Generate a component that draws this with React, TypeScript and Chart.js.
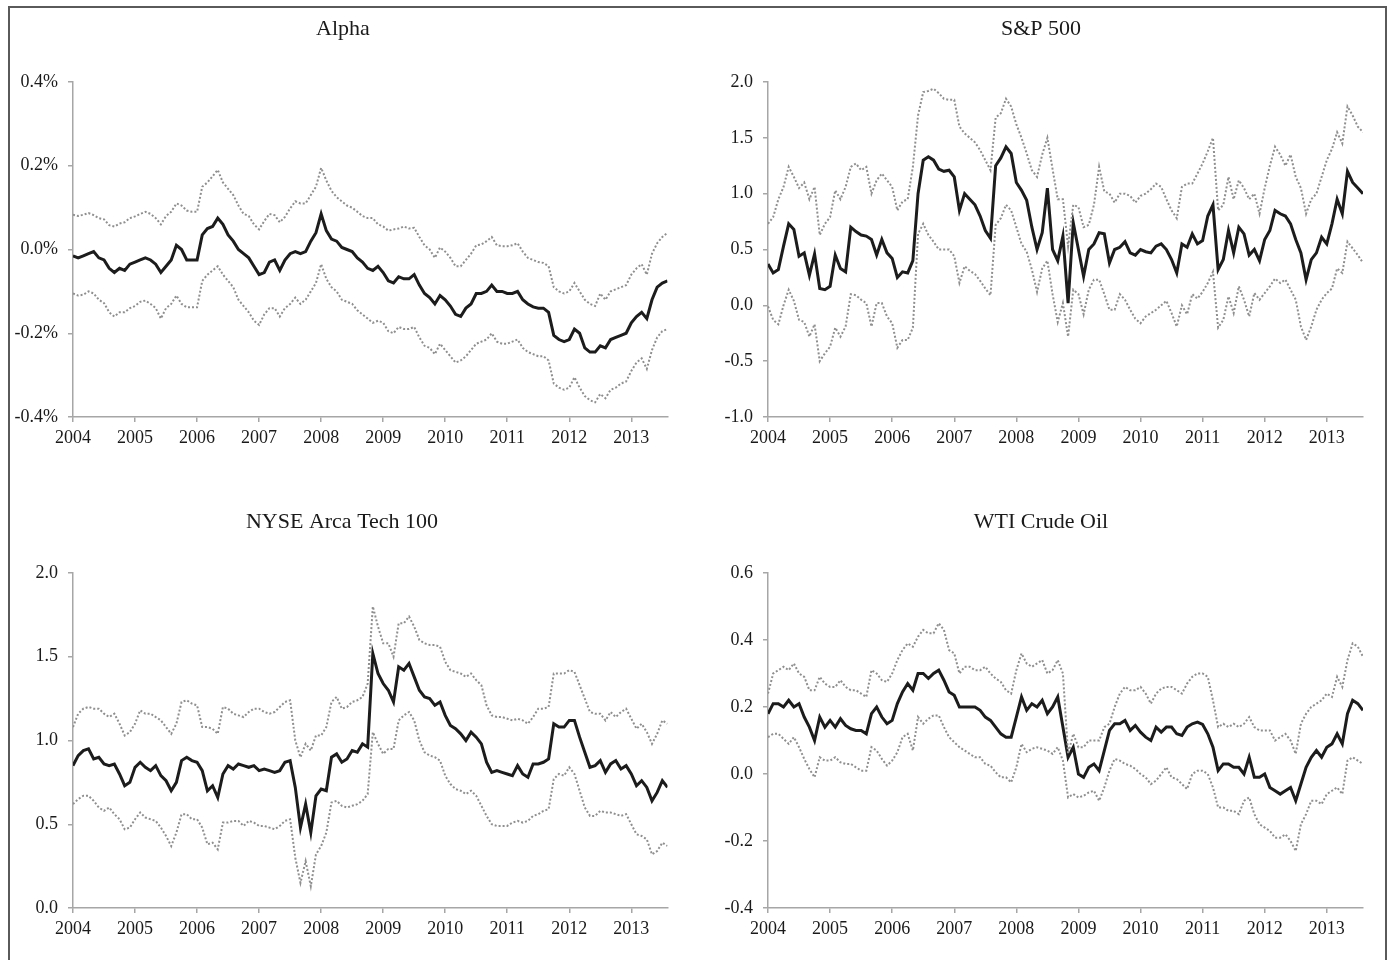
import React, { useEffect, useRef } from "react";
import { Chart, registerables } from "chart.js";

Chart.register(...registerables);

// ---------- data ----------
const FIRST_YEAR = 2004;
// monthly sample dates (decimal years), Jan 2004 .. Aug 2013
const MONTHS: number[] = Array.from({ length: 116 }, (_, i) => FIRST_YEAR + i / 12);
const YEAR_TICKS = [2004, 2005, 2006, 2007, 2008, 2009, 2010, 2011, 2012, 2013];

const ALPHA_MID = [
  -0.015, -0.02, -0.015, -0.01, -0.005, -0.02, -0.025, -0.045, -0.055, -0.045, -0.05, -0.035,
  -0.03, -0.025, -0.02, -0.025, -0.035, -0.055, -0.04, -0.025, 0.01, 0.0, -0.025, -0.025,
  -0.025, 0.035, 0.05, 0.055, 0.075, 0.06, 0.035, 0.02, 0.0, -0.01, -0.02, -0.04,
  -0.06, -0.055, -0.03, -0.025, -0.05, -0.025, -0.01, -0.005, -0.01, -0.005, 0.02, 0.04,
  0.085, 0.045, 0.025, 0.02, 0.005, 0.0, -0.005, -0.02, -0.03, -0.045, -0.05, -0.04,
  -0.055, -0.075, -0.08, -0.065, -0.07, -0.07, -0.06, -0.085, -0.105, -0.115, -0.13, -0.11,
  -0.12, -0.135, -0.155, -0.16, -0.14, -0.13, -0.105, -0.105, -0.1, -0.085, -0.1, -0.1,
  -0.105, -0.105, -0.1, -0.12, -0.13, -0.137, -0.14, -0.14, -0.15, -0.205, -0.215, -0.22,
  -0.215, -0.19, -0.2, -0.235, -0.245, -0.245, -0.23, -0.235, -0.215, -0.21, -0.205, -0.2,
  -0.175, -0.16, -0.15, -0.165, -0.12, -0.09, -0.08, -0.075,
];
const ALPHA_UP = [
  0.083, 0.08, 0.083, 0.087, 0.082, 0.075, 0.072, 0.058, 0.055, 0.062, 0.065, 0.075,
  0.079, 0.085, 0.09, 0.085, 0.075, 0.06, 0.08, 0.09, 0.11, 0.105, 0.093, 0.09,
  0.09, 0.15, 0.16, 0.175, 0.19, 0.16, 0.145, 0.13, 0.105, 0.085, 0.08, 0.06,
  0.048, 0.068, 0.085, 0.082, 0.065, 0.078, 0.098, 0.115, 0.11, 0.11, 0.13, 0.15,
  0.195, 0.165, 0.14, 0.125, 0.115, 0.105, 0.1, 0.09, 0.08, 0.075, 0.075, 0.06,
  0.055, 0.045, 0.048, 0.05, 0.055, 0.05, 0.052, 0.03, 0.01, 0.0, -0.02, 0.005,
  -0.005, -0.02, -0.04, -0.04, -0.025, -0.01, 0.01, 0.012, 0.02, 0.03, 0.01, 0.008,
  0.008, 0.01, 0.015, -0.005, -0.02, -0.025, -0.03, -0.032, -0.04, -0.09, -0.1, -0.105,
  -0.1, -0.08, -0.1, -0.12, -0.13, -0.135, -0.105, -0.12, -0.1, -0.095, -0.09, -0.085,
  -0.06, -0.045, -0.035, -0.06, -0.01, 0.015, 0.03, 0.04,
];
const ALPHA_LO = [
  -0.105, -0.11, -0.108, -0.1, -0.105, -0.12, -0.128, -0.15, -0.16, -0.15, -0.15, -0.14,
  -0.135, -0.125, -0.122, -0.13, -0.14, -0.165, -0.14, -0.13, -0.11, -0.13, -0.138, -0.138,
  -0.138, -0.075, -0.06, -0.05, -0.04, -0.06, -0.075, -0.09, -0.12, -0.135, -0.15, -0.17,
  -0.18, -0.155, -0.14, -0.14, -0.16, -0.14, -0.13, -0.115, -0.13, -0.12, -0.1, -0.08,
  -0.035, -0.07, -0.09, -0.1, -0.12, -0.125, -0.13, -0.145, -0.155, -0.165, -0.175, -0.17,
  -0.175, -0.195, -0.2, -0.185, -0.19, -0.19, -0.185, -0.21, -0.23, -0.235, -0.25, -0.225,
  -0.24, -0.255, -0.27, -0.265, -0.255, -0.24, -0.225, -0.22, -0.215, -0.2, -0.22, -0.225,
  -0.225, -0.22, -0.215, -0.235, -0.245, -0.25, -0.255, -0.255, -0.265, -0.32, -0.33, -0.335,
  -0.33, -0.305, -0.33, -0.35, -0.36, -0.365, -0.345, -0.355, -0.335, -0.33, -0.32, -0.315,
  -0.29, -0.27, -0.26, -0.285, -0.24, -0.21, -0.195, -0.19,
];

const SP_MID = [
  0.37, 0.29, 0.32, 0.53, 0.73, 0.68, 0.44, 0.47, 0.27, 0.46, 0.15, 0.14,
  0.17, 0.45, 0.33, 0.3, 0.7, 0.66, 0.63, 0.62, 0.59, 0.45, 0.59, 0.47,
  0.42, 0.25, 0.3, 0.29, 0.4, 1.0, 1.3, 1.33, 1.3, 1.22, 1.2, 1.21,
  1.15, 0.85, 1.0, 0.95, 0.9, 0.8, 0.67, 0.6, 1.25, 1.32, 1.42, 1.36,
  1.1, 1.03, 0.94, 0.7, 0.5, 0.65, 1.05, 0.5, 0.4, 0.62, 0.02, 0.74,
  0.5, 0.26, 0.5, 0.55, 0.65, 0.64, 0.38, 0.5, 0.52, 0.57, 0.47, 0.45,
  0.5, 0.48, 0.47, 0.53, 0.55, 0.5, 0.41, 0.29, 0.55, 0.52, 0.64, 0.55,
  0.58, 0.8, 0.9, 0.32, 0.41, 0.67, 0.47, 0.7, 0.64, 0.45, 0.5, 0.4,
  0.59, 0.67, 0.85, 0.82, 0.8, 0.73, 0.59, 0.47, 0.23, 0.41, 0.47, 0.61,
  0.55, 0.73, 0.95, 0.82, 1.2, 1.1, 1.05, 1.0,
];
const SP_UP = [
  0.73, 0.79, 0.95, 1.06, 1.24, 1.15, 1.05, 1.1, 0.95, 1.06, 0.63, 0.73,
  0.79, 1.03, 0.95, 1.06, 1.24, 1.27, 1.21, 1.24, 1.0, 1.12, 1.18, 1.12,
  1.06, 0.85, 0.93, 0.95, 1.24, 1.7, 1.91, 1.92, 1.94, 1.9, 1.85, 1.84,
  1.84, 1.6, 1.54, 1.5, 1.46, 1.39, 1.3, 1.21, 1.68, 1.72, 1.85, 1.78,
  1.62, 1.5, 1.36, 1.21, 1.15, 1.35, 1.5, 1.22, 0.95, 0.95, 0.53, 0.9,
  0.88, 0.7, 0.72, 0.9, 1.24, 1.02, 1.0, 0.92, 1.0, 1.0, 0.98, 0.92,
  0.98, 1.0, 1.04, 1.09, 1.06, 0.95, 0.85, 0.78, 1.06, 1.09, 1.09, 1.18,
  1.27, 1.38, 1.5, 0.85, 0.9, 1.15, 0.95, 1.12, 1.05, 0.95, 1.0, 0.82,
  1.05, 1.25, 1.42, 1.35, 1.25, 1.35, 1.15, 1.05, 0.82, 0.95, 1.0, 1.15,
  1.3, 1.4, 1.55, 1.45, 1.78, 1.7, 1.6, 1.55,
];
const SP_LO = [
  -0.01, -0.13, -0.17, 0.0, 0.14, 0.04, -0.13, -0.15, -0.28, -0.17, -0.5, -0.43,
  -0.37, -0.2, -0.28, -0.19, 0.1, 0.09, 0.05, 0.02, -0.19, 0.02, 0.02, -0.1,
  -0.16, -0.38, -0.31, -0.31, -0.2, 0.64, 0.73, 0.63, 0.57, 0.5, 0.5, 0.5,
  0.44, 0.2, 0.35, 0.31, 0.28, 0.22, 0.15, 0.09, 0.72, 0.78, 0.9, 0.85,
  0.7, 0.55, 0.48, 0.32, 0.12, 0.33, 0.4, 0.1, -0.15, 0.02, -0.28, 0.14,
  0.1, -0.08, 0.14, 0.23, 0.23, 0.1, -0.04, -0.04, 0.1, 0.05, -0.04, -0.12,
  -0.16, -0.1, -0.07, -0.04, 0.0, 0.04, -0.07, -0.19, 0.0, -0.08, 0.1, 0.06,
  0.12, 0.2, 0.3, -0.2, -0.13, 0.08, -0.07, 0.17, 0.05, -0.1, 0.11, 0.05,
  0.11, 0.17, 0.24, 0.2, 0.23, 0.14, 0.05, -0.19, -0.31, -0.19, -0.04, 0.05,
  0.11, 0.15, 0.33, 0.29, 0.57, 0.51, 0.45, 0.38,
];

const NYSE_MID = [
  0.85, 0.91, 0.94, 0.95, 0.89, 0.9, 0.86, 0.85, 0.86, 0.8, 0.73, 0.75,
  0.84, 0.87, 0.84, 0.82, 0.85, 0.79, 0.76, 0.7, 0.75, 0.88, 0.9, 0.88,
  0.87, 0.82, 0.7, 0.73, 0.66, 0.8, 0.85, 0.83, 0.86, 0.85, 0.84, 0.85,
  0.82, 0.83, 0.82, 0.81, 0.82, 0.87, 0.88, 0.72, 0.48, 0.62, 0.45, 0.67,
  0.71, 0.7, 0.9, 0.92, 0.87, 0.89, 0.94, 0.93, 0.98, 0.96, 1.52, 1.4,
  1.34, 1.3, 1.23, 1.44, 1.42, 1.46, 1.38, 1.3, 1.26, 1.25, 1.21, 1.23,
  1.15, 1.09, 1.07, 1.04, 1.0, 1.05, 1.02, 0.98, 0.87, 0.81, 0.82, 0.81,
  0.8, 0.79, 0.85, 0.8, 0.78, 0.86, 0.86, 0.87, 0.89, 1.1, 1.08, 1.08,
  1.12, 1.12, 1.02, 0.93, 0.84, 0.85, 0.88, 0.81, 0.86, 0.88, 0.83, 0.85,
  0.8, 0.73, 0.76, 0.72, 0.64, 0.69, 0.76, 0.72,
];
const NYSE_UP = [
  1.08, 1.16, 1.19, 1.2, 1.19, 1.19, 1.16, 1.14, 1.16, 1.1, 1.03, 1.05,
  1.1, 1.18, 1.16, 1.16, 1.14, 1.12, 1.08, 1.04, 1.1, 1.23, 1.24, 1.22,
  1.21, 1.08, 1.08, 1.07, 1.04, 1.2, 1.19, 1.16, 1.15, 1.14, 1.17, 1.19,
  1.19, 1.17, 1.16, 1.17, 1.2, 1.23, 1.24, 1.0, 0.9, 0.98, 0.94, 1.03,
  1.03, 1.08, 1.23, 1.26, 1.19, 1.2, 1.23, 1.24, 1.26, 1.34, 1.8, 1.68,
  1.58, 1.58, 1.5, 1.7, 1.7, 1.74, 1.68, 1.6, 1.58, 1.57, 1.57, 1.56,
  1.47, 1.42, 1.41, 1.4, 1.38, 1.4, 1.36, 1.33, 1.21, 1.15, 1.14, 1.14,
  1.13, 1.12, 1.13, 1.12, 1.1, 1.14, 1.19, 1.19, 1.2, 1.4, 1.4, 1.4,
  1.42, 1.41, 1.33, 1.25, 1.17, 1.16, 1.16, 1.12, 1.17, 1.14, 1.17, 1.19,
  1.13, 1.07, 1.1, 1.05, 0.98, 1.04, 1.12, 1.1,
];
const NYSE_LO = [
  0.62, 0.65, 0.67, 0.67, 0.64, 0.6, 0.58, 0.6, 0.56, 0.53, 0.47, 0.48,
  0.53, 0.57, 0.54, 0.53, 0.52, 0.48, 0.43, 0.37, 0.45, 0.56, 0.56, 0.53,
  0.53, 0.48, 0.38, 0.39, 0.35, 0.51, 0.51, 0.52, 0.52, 0.49, 0.52, 0.51,
  0.49, 0.49, 0.48, 0.47, 0.49, 0.52, 0.53, 0.3, 0.15, 0.28, 0.13, 0.32,
  0.37, 0.45, 0.63, 0.64, 0.61, 0.6, 0.61, 0.62, 0.64, 0.68, 1.05, 0.98,
  0.92, 0.95, 0.95, 1.12, 1.15, 1.17, 1.12, 1.0, 0.93, 0.91, 0.9, 0.88,
  0.79, 0.74, 0.71, 0.7, 0.68, 0.7, 0.67, 0.61, 0.55, 0.5, 0.49, 0.49,
  0.49, 0.51, 0.52, 0.51, 0.52, 0.55, 0.56, 0.58, 0.59, 0.77, 0.8, 0.79,
  0.84, 0.8, 0.7, 0.6, 0.55, 0.55, 0.58, 0.57, 0.57, 0.56, 0.55, 0.56,
  0.5, 0.44, 0.43, 0.41, 0.32, 0.34, 0.39, 0.37,
];

const WTI_MID = [
  0.18, 0.21, 0.21, 0.2, 0.22, 0.2, 0.21, 0.17, 0.14, 0.1, 0.17, 0.14,
  0.16, 0.14, 0.165, 0.145, 0.135, 0.13, 0.13, 0.12, 0.18, 0.2, 0.17, 0.15,
  0.16, 0.21, 0.245, 0.27, 0.25, 0.3, 0.3, 0.285, 0.3, 0.31, 0.28, 0.245,
  0.235, 0.2, 0.2, 0.2, 0.2, 0.19, 0.17, 0.16, 0.14, 0.12, 0.11, 0.11,
  0.17, 0.23, 0.19, 0.21, 0.2, 0.22, 0.18, 0.2, 0.23, 0.14, 0.05, 0.08,
  0.0, -0.01, 0.02, 0.03, 0.01, 0.07, 0.13, 0.15, 0.15, 0.16, 0.13, 0.145,
  0.125, 0.11, 0.1, 0.14, 0.125, 0.14, 0.14, 0.12, 0.115, 0.14, 0.15, 0.155,
  0.148, 0.12, 0.08, 0.01, 0.03, 0.03, 0.02, 0.02, 0.0, 0.05, -0.01, -0.01,
  0.0, -0.04, -0.05, -0.06, -0.05, -0.04, -0.08, -0.03, 0.02, 0.05, 0.07, 0.05,
  0.08, 0.09, 0.12, 0.09, 0.18, 0.22, 0.21, 0.19,
];
const WTI_UP = [
  0.24, 0.3, 0.31, 0.32, 0.31, 0.33, 0.3, 0.29, 0.25, 0.25, 0.29, 0.27,
  0.26, 0.26, 0.28, 0.26, 0.25, 0.25, 0.24, 0.23, 0.31, 0.3, 0.28, 0.275,
  0.3, 0.34, 0.37, 0.39, 0.38, 0.41, 0.43, 0.42, 0.42, 0.45, 0.43, 0.37,
  0.36, 0.3, 0.32, 0.32, 0.31, 0.31, 0.32, 0.3, 0.285, 0.275, 0.25, 0.24,
  0.31, 0.36, 0.33, 0.32, 0.33, 0.34, 0.3, 0.31, 0.34, 0.3, 0.06, 0.12,
  0.08, 0.08, 0.1, 0.1, 0.1, 0.14, 0.15, 0.2, 0.24, 0.26, 0.25, 0.25,
  0.26, 0.24, 0.21, 0.24, 0.255, 0.26, 0.26, 0.25, 0.24, 0.27, 0.29, 0.3,
  0.3, 0.29, 0.22, 0.14, 0.15, 0.14, 0.15, 0.14, 0.15, 0.17, 0.14, 0.13,
  0.13, 0.13, 0.1, 0.11, 0.12, 0.1, 0.06, 0.15, 0.18, 0.2, 0.21, 0.22,
  0.24, 0.23, 0.29, 0.26, 0.34, 0.39, 0.38, 0.35,
];
const WTI_LO = [
  0.11, 0.12, 0.12, 0.105, 0.09, 0.11, 0.08, 0.045, 0.015, -0.01, 0.05, 0.04,
  0.04, 0.05, 0.035, 0.03, 0.03, 0.02, 0.01, 0.01, 0.08, 0.07, 0.045, 0.025,
  0.04, 0.065, 0.11, 0.12, 0.07, 0.17, 0.15, 0.165, 0.175, 0.175, 0.14, 0.11,
  0.095, 0.08, 0.07, 0.06, 0.05, 0.05, 0.03, 0.025, 0.005, -0.01, -0.01, -0.025,
  0.02, 0.09, 0.065, 0.075, 0.08, 0.075, 0.07, 0.06, 0.08, 0.04, -0.07, -0.06,
  -0.07, -0.065, -0.055, -0.05, -0.08, -0.04, 0.01, 0.045, 0.04, 0.03, 0.025, 0.015,
  0.0, -0.01, -0.03, -0.02, 0.0, 0.02, -0.01, -0.015, -0.03, -0.045, 0.0, 0.01,
  0.01, 0.0, -0.04, -0.1, -0.1, -0.11, -0.11, -0.12, -0.08, -0.07, -0.12, -0.15,
  -0.16, -0.17, -0.19, -0.19, -0.18, -0.2, -0.23, -0.15, -0.12, -0.08, -0.08, -0.09,
  -0.06, -0.05, -0.04, -0.06, 0.04, 0.05, 0.04, 0.03,
];

const ALPHA_TICKS = [-0.4, -0.2, 0, 0.2, 0.4];
const SP_TICKS = [-1, -0.5, 0, 0.5, 1, 1.5, 2];
const NYSE_TICKS = [0, 0.5, 1, 1.5, 2];
const WTI_TICKS = [-0.4, -0.2, 0, 0.2, 0.4, 0.6];

// ---------- styling ----------
const FONT = "'Liberation Serif', 'Times New Roman', serif";
const TEXT = "#1a1a1a";
const BLACK = "#1c1c1c";
const GRAY = "#8f8f8f";
const AXIS = "#a6a6a6";

interface PanelSpec {
  title: string;
  mid: number[];
  up: number[];
  lo: number[];
  yTicks: number[];
  fmt: (v: number) => string;
  left: number;
  top: number;
  width: number;
  height: number;
  plotLeft: number;
  plotRight: number;
  plotTop: number;
  plotBottom: number;
  titleX: number;
  titleBaseline: number;
}

const pct = (v: number) => v.toFixed(1) + "%";
const dec = (v: number) => v.toFixed(1);

const PANELS: PanelSpec[] = [
  {
    title: "Alpha", mid: ALPHA_MID, up: ALPHA_UP, lo: ALPHA_LO, yTicks: ALPHA_TICKS, fmt: pct,
    left: 8, top: 8, width: 680, height: 460,
    plotLeft: 73, plotRight: 667.5, plotTop: 82, plotBottom: 417,
    titleX: 343, titleBaseline: 35,
  },
  {
    title: "S&P 500", mid: SP_MID, up: SP_UP, lo: SP_LO, yTicks: SP_TICKS, fmt: dec,
    left: 700, top: 8, width: 680, height: 460,
    plotLeft: 768, plotRight: 1363, plotTop: 82, plotBottom: 417,
    titleX: 1041, titleBaseline: 35,
  },
  {
    title: "NYSE Arca Tech 100", mid: NYSE_MID, up: NYSE_UP, lo: NYSE_LO, yTicks: NYSE_TICKS, fmt: dec,
    left: 8, top: 470, width: 680, height: 480,
    plotLeft: 73, plotRight: 667.5, plotTop: 573, plotBottom: 908,
    titleX: 342, titleBaseline: 528,
  },
  {
    title: "WTI Crude Oil", mid: WTI_MID, up: WTI_UP, lo: WTI_LO, yTicks: WTI_TICKS, fmt: dec,
    left: 700, top: 470, width: 680, height: 480,
    plotLeft: 768, plotRight: 1363, plotTop: 573, plotBottom: 908,
    titleX: 1041, titleBaseline: 528,
  },
];

function Panel({ spec }: { spec: PanelSpec }) {
  const ref = useRef<HTMLCanvasElement | null>(null);

  useEffect(() => {
    const canvas = ref.current;
    if (!canvas) return;
    const pts = (arr: number[]) => arr.map((v, i) => ({ x: MONTHS[i], y: v }));
    const yAxisWidth = spec.plotLeft - spec.left;
    const padRight = spec.left + spec.width - spec.plotRight;
    const padTop = spec.plotTop - spec.top;
    const xAxisHeight = spec.top + spec.height - spec.plotBottom;

    const titlePlugin = {
      id: "panelTitle",
      afterDraw(chart: any) {
        const ctx = chart.ctx as CanvasRenderingContext2D;
        ctx.save();
        ctx.font = `22px ${FONT}`;
        ctx.fillStyle = TEXT;
        ctx.textAlign = "center";
        ctx.textBaseline = "alphabetic";
        ctx.fillText(spec.title, spec.titleX - spec.left, spec.titleBaseline - spec.top);
        ctx.restore();
      },
    };

    const gridCfg = {
      display: true,
      drawOnChartArea: false,
      drawTicks: true,
      tickLength: 5,
      color: AXIS,
      lineWidth: 1.5,
    };
    const borderCfg = { display: true, color: AXIS, width: 1.5 };
    const tickFont = { family: FONT, size: 18 };

    const chart = new Chart(canvas, {
      type: "line",
      data: {
        datasets: [
          {
            data: pts(spec.up),
            borderColor: GRAY,
            borderWidth: 2,
            borderDash: [2, 2],
            pointRadius: 0,
            fill: false,
            tension: 0,
          },
          {
            data: pts(spec.lo),
            borderColor: GRAY,
            borderWidth: 2,
            borderDash: [2, 2],
            pointRadius: 0,
            fill: false,
            tension: 0,
          },
          {
            data: pts(spec.mid),
            borderColor: BLACK,
            borderWidth: 3,
            pointRadius: 0,
            fill: false,
            tension: 0,
          },
        ],
      },
      options: {
        responsive: false,
        animation: false,
        devicePixelRatio: 1,
        events: [],
        layout: { padding: { left: 0, right: padRight, top: padTop, bottom: 0 } },
        plugins: {
          legend: { display: false },
          tooltip: { enabled: false },
          title: { display: false },
        },
        scales: {
          x: {
            type: "linear",
            min: FIRST_YEAR,
            max: MONTHS[MONTHS.length - 1],
            grid: gridCfg,
            border: borderCfg,
            afterBuildTicks: (s: any) => {
              s.ticks = YEAR_TICKS.map((v) => ({ value: v }));
            },
            afterFit: (s: any) => {
              s.height = xAxisHeight;
            },
            ticks: {
              color: TEXT,
              font: tickFont,
              padding: 5,
              maxRotation: 0,
              autoSkip: false,
              callback: (v: any) => String(v),
            },
          },
          y: {
            type: "linear",
            min: spec.yTicks[0],
            max: spec.yTicks[spec.yTicks.length - 1],
            grid: gridCfg,
            border: borderCfg,
            afterBuildTicks: (s: any) => {
              s.ticks = spec.yTicks.map((v) => ({ value: v }));
            },
            afterFit: (s: any) => {
              s.width = yAxisWidth;
            },
            ticks: {
              color: TEXT,
              font: tickFont,
              padding: 10,
              callback: (v: any) => spec.fmt(Number(v)),
            },
          },
        },
      } as any,
      plugins: [titlePlugin],
    });

    return () => chart.destroy();
  }, [spec]);

  return (
    <canvas
      ref={ref}
      width={spec.width}
      height={spec.height}
      style={{
        position: "absolute",
        left: spec.left,
        top: spec.top,
        width: spec.width,
        height: spec.height,
      }}
    />
  );
}

export default function App() {
  return (
    <div
      style={{
        position: "fixed",
        left: 0,
        top: 0,
        width: 1389,
        height: 960,
        overflow: "hidden",
        background: "#ffffff",
      }}
    >
      <div
        style={{
          position: "absolute",
          left: 8,
          top: 6,
          width: 1379,
          height: 1000,
          border: "2px solid #5a5a5a",
          boxSizing: "border-box",
        }}
      />
      {PANELS.map((p) => (
        <Panel key={p.title} spec={p} />
      ))}
    </div>
  );
}
